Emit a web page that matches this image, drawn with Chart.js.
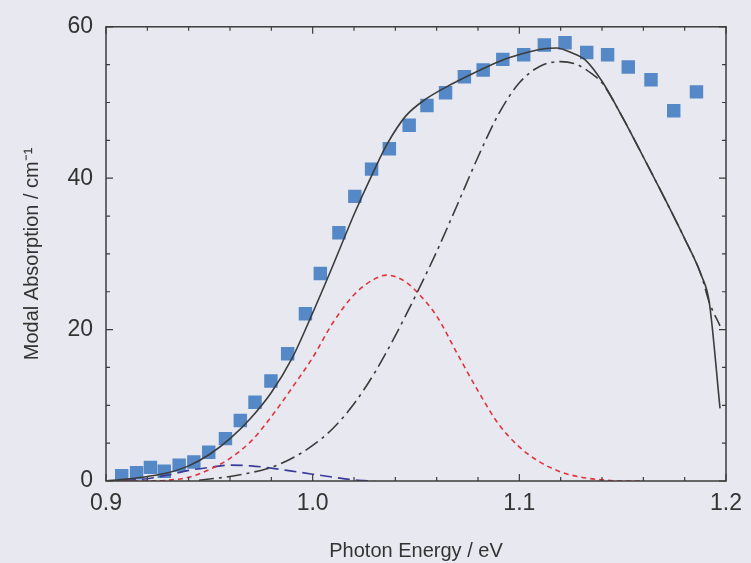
<!DOCTYPE html>
<html>
<head>
<meta charset="utf-8">
<script src="https://cdn.jsdelivr.net/npm/chart.js@4.4.1/dist/chart.umd.min.js"></script>
<style>
    html, body { margin: 0; padding: 0; background: #e8e8f0; }
    canvas { display: block; }
</style>
</head>
<body>
<canvas id="absorptionChart" width="751" height="563"></canvas>
<script>
// measured modal absorption (squares)
const measuredEnergy = [0.9076, 0.9148, 0.9215, 0.9282, 0.9354, 0.9425, 0.9497, 0.9578, 0.9650, 0.9721,
    0.9798, 0.9879, 0.9965, 1.0037, 1.0127, 1.0204, 1.0285, 1.0371, 1.0467, 1.0553,
    1.0643, 1.0734, 1.0825, 1.0920, 1.1021, 1.1121, 1.1221, 1.1326, 1.1427, 1.1527,
    1.1637, 1.1747, 1.1857];
const measuredAbs = [0.7, 1.1, 1.8, 1.3, 2.1, 2.5, 3.8, 5.6, 8.0, 10.4,
    13.2, 16.8, 22.1, 27.4, 32.8, 37.6, 41.2, 43.9, 47.0, 49.6,
    51.3, 53.4, 54.3, 55.7, 56.3, 57.6, 57.9, 56.6, 56.3, 54.7,
    53.0, 48.9, 51.4];

// total fit (solid)
const totalEnergy = [0.900, 0.910, 0.920, 0.930, 0.940, 0.950, 0.960, 0.970, 0.980, 0.990,
    1.000, 1.010, 1.020, 1.030, 1.036, 1.045, 1.055, 1.065, 1.075, 1.085,
    1.095, 1.105, 1.112, 1.118, 1.125, 1.132, 1.140, 1.150, 1.160, 1.170,
    1.180, 1.188, 1.1919, 1.1971];
const totalFit = [0, 0.25, 0.6, 1.1, 2.0, 3.5, 5.6, 8.3, 11.7, 16.2,
    22.2, 28.6, 35.2, 41.2, 44.5, 48.2, 50.5, 52.1, 53.5, 54.8,
    55.9, 56.7, 57.1, 57.2, 56.6, 55.6, 52.8, 48.0, 42.8, 37.5,
    32.0, 27.2, 23.6, 9.6];

// band-to-band component (dash-dot)
const bandEnergy = [0.945, 0.960, 0.970, 0.980, 0.990, 1.000, 1.010, 1.020, 1.030, 1.040,
    1.050, 1.060, 1.070, 1.080, 1.090, 1.100, 1.110, 1.120, 1.128, 1.135,
    1.140, 1.150, 1.160, 1.170, 1.180, 1.188, 1.1919, 1.1971];
const bandFit = [0.1, 0.6, 1.1, 1.8, 3.0, 4.7, 7.0, 10.2, 14.3, 19.2,
    24.6, 30.3, 36.5, 42.8, 48.5, 52.6, 54.8, 55.4, 55.0, 53.8,
    52.6, 48.0, 42.8, 37.5, 32.0, 27.2, 23.6, 20.5];

// first excited state component (red short dash)
const excitedEnergy = [0.900, 0.920, 0.930, 0.940, 0.950, 0.960, 0.970, 0.980, 0.990, 1.000,
    1.010, 1.020, 1.030, 1.036, 1.045, 1.050, 1.060, 1.070, 1.080, 1.090,
    1.100, 1.110, 1.120, 1.130, 1.140, 1.150, 1.160];
const excitedFit = [0, 0, 0.1, 0.5, 1.5, 3.0, 5.2, 8.5, 12.3, 16.3,
    21.0, 24.6, 26.7, 27.2, 26.3, 25.1, 21.8, 16.8, 11.9, 7.5,
    4.5, 2.5, 1.2, 0.5, 0.15, 0, 0];

// ground state component (blue long dash)
const groundEnergy = [0.900, 0.910, 0.920, 0.930, 0.940, 0.950, 0.960, 0.970, 0.980, 0.990,
    1.000, 1.010, 1.020, 1.030];
const groundFit = [0, 0.1, 0.3, 0.8, 1.4, 1.8, 2.1, 2.0, 1.7, 1.3,
    0.9, 0.5, 0.15, 0];

const xTicks = [0.9, 1.0, 1.1, 1.2];
const yTicks = [0, 20, 40, 60];

const toPoints = (xs, ys) => xs.map((x, i) => ({ x: x, y: ys[i] }));

// frame with inward tick marks, drawn from the scales
const frameTicks = {
    id: 'frameTicks',
    beforeDraw(chart) {
        const { ctx } = chart;
        ctx.save();
        ctx.fillStyle = '#e8e8f0';
        ctx.fillRect(0, 0, chart.width, chart.height);
        ctx.restore();
    },
    afterDraw(chart) {
        const { ctx, chartArea: a, scales } = chart;
        ctx.save();
        ctx.strokeStyle = '#3c3c3c';
        ctx.lineWidth = 1.5;
        ctx.strokeRect(a.left, a.top, a.right - a.left, a.bottom - a.top);
        ctx.lineWidth = 1.2;
        ctx.beginPath();
        for (let v = 0; v <= 60; v += 5) {
            const y = scales.y.getPixelForValue(v);
            const len = v % 20 === 0 ? 7 : 4;
            ctx.moveTo(a.left, y); ctx.lineTo(a.left + len, y);
            ctx.moveTo(a.right, y); ctx.lineTo(a.right - len, y);
        }
        for (let k = 0; k <= 15; k++) {
            const x = scales.x.getPixelForValue(0.9 + k * 0.02);
            ctx.moveTo(x, a.bottom); ctx.lineTo(x, a.bottom - 4);
            ctx.moveTo(x, a.top); ctx.lineTo(x, a.top + 4);
        }
        xTicks.forEach(v => {
            const x = scales.x.getPixelForValue(v);
            ctx.moveTo(x, a.bottom); ctx.lineTo(x, a.bottom - 7);
            ctx.moveTo(x, a.top); ctx.lineTo(x, a.top + 7);
        });
        ctx.stroke();
        ctx.restore();
    }
};

document.addEventListener("DOMContentLoaded", () => {
    const ctx = document.getElementById('absorptionChart').getContext('2d');
    new Chart(ctx, {
        type: 'scatter',
        data: {
            datasets: [
                {
                    label: 'Total',
                    data: toPoints(totalEnergy, totalFit),
                    showLine: true,
                    borderColor: '#3c3c3c',
                    borderWidth: 1.6,
                    pointRadius: 0,
                    cubicInterpolationMode: 'monotone',
                    order: 1
                },
                {
                    label: 'Band',
                    data: toPoints(bandEnergy, bandFit),
                    showLine: true,
                    borderColor: '#3c3c3c',
                    borderWidth: 1.6,
                    borderDash: [15, 5, 3, 5],
                    pointRadius: 0,
                    cubicInterpolationMode: 'monotone',
                    order: 2
                },
                {
                    label: 'Excited',
                    data: toPoints(excitedEnergy, excitedFit),
                    showLine: true,
                    borderColor: '#e0333a',
                    borderWidth: 1.6,
                    borderDash: [5, 4],
                    pointRadius: 0,
                    cubicInterpolationMode: 'monotone',
                    order: 3
                },
                {
                    label: 'Ground',
                    data: toPoints(groundEnergy, groundFit),
                    showLine: true,
                    borderColor: '#3b3b9c',
                    borderWidth: 1.6,
                    borderDash: [12, 6],
                    pointRadius: 0,
                    cubicInterpolationMode: 'monotone',
                    order: 4
                },
                {
                    label: 'Measured',
                    data: toPoints(measuredEnergy, measuredAbs),
                    pointStyle: 'rect',
                    pointRadius: 9.5,
                    pointBorderWidth: 0,
                    backgroundColor: '#5588c6',
                    borderColor: '#5588c6',
                    order: 5
                }
            ]
        },
        options: {
            responsive: false,
            animation: false,
            layout: {
                padding: { top: 25, right: 17, left: 0, bottom: 0 }
            },
            scales: {
                x: {
                    type: 'linear',
                    min: 0.9,
                    max: 1.2,
                    afterFit: (scale) => { scale.height = 82; },
                    afterBuildTicks: (scale) => { scale.ticks = xTicks.map(v => ({ value: v })); },
                    grid: { display: false, drawTicks: false },
                    border: { display: false },
                    ticks: {
                        padding: 9,
                        color: '#333',
                        font: { family: 'Liberation Sans', size: 23 },
                        callback: (v) => v.toFixed(1)
                    },
                    title: {
                        display: true,
                        text: 'Photon Energy / eV',
                        color: '#333',
                        font: { family: 'Liberation Sans', size: 20 },
                        padding: { top: 0, bottom: 0 }
                    }
                },
                y: {
                    min: 0,
                    max: 60,
                    afterFit: (scale) => { scale.width = 106; },
                    afterBuildTicks: (scale) => { scale.ticks = yTicks.map(v => ({ value: v })); },
                    grid: { display: false, drawTicks: false },
                    border: { display: false },
                    ticks: {
                        padding: 13,
                        color: '#333',
                        font: { family: 'Liberation Sans', size: 23 }
                    },
                    title: {
                        display: true,
                        text: 'Modal Absorption / cm\u207B\u00B9',
                        color: '#333',
                        font: { family: 'Liberation Sans', size: 20 },
                        padding: { top: 20, bottom: 0 }
                    }
                }
            },
            plugins: {
                legend: { display: false },
                tooltip: { enabled: false }
            }
        },
        plugins: [frameTicks]
    });
});
</script>
</body>
</html>
